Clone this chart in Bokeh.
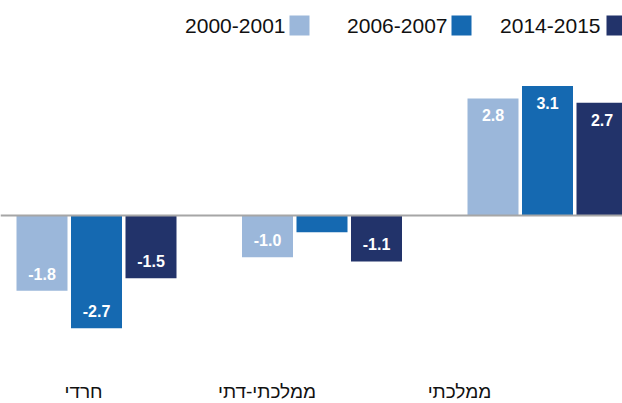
from bokeh.plotting import figure
from bokeh.models import Span
from bokeh.core.properties import value
from bokeh.embed import file_html
from bokeh.resources import INLINE

# ---- data ----
categories = ["חרדי", "ממלכתי-דתי", "ממלכתי"]
series = ["2000-2001", "2006-2007", "2014-2015"]
v2000 = [-1.8, -1.0, 2.8]
v2006 = [-2.7, -0.4, 3.1]
v2014 = [-1.5, -1.1, 2.7]
show2000 = [True, True, True]
show2006 = [True, False, True]
show2014 = [True, True, True]

# ---- style / layout ----
colors = ["#9BB7DA", "#1569B1", "#22336A"]
FONT = "Liberation Sans"
W, H = 622, 403
PX_X = 225.5          # pixels per category step
X0_PX = 96.0          # pixel of first category centre
ZERO_PX = 215.0       # pixel of y = 0 (from top)
PX_Y = 41.8           # pixels per unit
BAR_W_PX = 51.0
BAR_STEP_PX = 54.5
cat_label_shift_px = [-13, -55, -88]
legend_text_right_px = [285, 447, 600]
legend_sq_centre_px = [299, 461, 616]
legend_y_px = 25
cat_label_y_px = 391

x_start = -X0_PX / PX_X
x_end = x_start + W / PX_X
y_end = ZERO_PX / PX_Y
y_start = y_end - H / PX_Y


def xd(px):
    return x_start + px / PX_X


def yd(px):
    return y_end - px / PX_Y


p = figure(width=W, height=H, x_range=(x_start, x_end), y_range=(y_start, y_end),
           output_backend="svg", toolbar_location=None, min_border=0,
           x_axis_location=None, y_axis_location=None)
p.grid.visible = False
p.outline_line_color = None
p.background_fill_color = "white"
p.border_fill_color = "white"

p.add_layout(Span(location=0, dimension="width", line_color="#a6a6a6", line_width=2))

all_vals = [v2000, v2006, v2014]
all_show = [show2000, show2006, show2014]
for j, (vals, shows, col) in enumerate(zip(all_vals, all_show, colors)):
    xs = [i + (j - 1) * BAR_STEP_PX / PX_X for i in range(len(categories))]
    p.vbar(x=xs, top=vals, bottom=0, width=BAR_W_PX / PX_X, color=col, line_color=None)
    lx = [x for x, s in zip(xs, shows) if s]
    lv = [v for v, s in zip(vals, shows) if s]
    ly = [v - (17 / PX_Y if v > 0 else -17 / PX_Y) for v in lv]
    lt = ["%.1f" % v for v in lv]
    p.text(x=lx, y=ly, text=lt, text_color="white", text_font=value(FONT),
           text_font_style="bold", text_font_size="16px", text_align="center",
           text_baseline="middle")

# category labels
p.text(x=[i + s / PX_X for i, s in enumerate(cat_label_shift_px)],
       y=[yd(cat_label_y_px)] * len(categories), text=categories,
       text_color="#111111", text_font=value(FONT), text_font_size="19px",
       text_align="center", text_baseline="middle")

# legend
p.text(x=[xd(v) for v in legend_text_right_px], y=[yd(legend_y_px)] * 3, text=series,
       text_color="#111111", text_font=value(FONT), text_font_size="21px",
       text_align="right", text_baseline="middle")
p.scatter(x=[xd(v) for v in legend_sq_centre_px], y=[yd(legend_y_px)] * 3,
          marker="square", size=20, color=colors, line_color=None)

open("out.html", "w").write(file_html(p, INLINE))
